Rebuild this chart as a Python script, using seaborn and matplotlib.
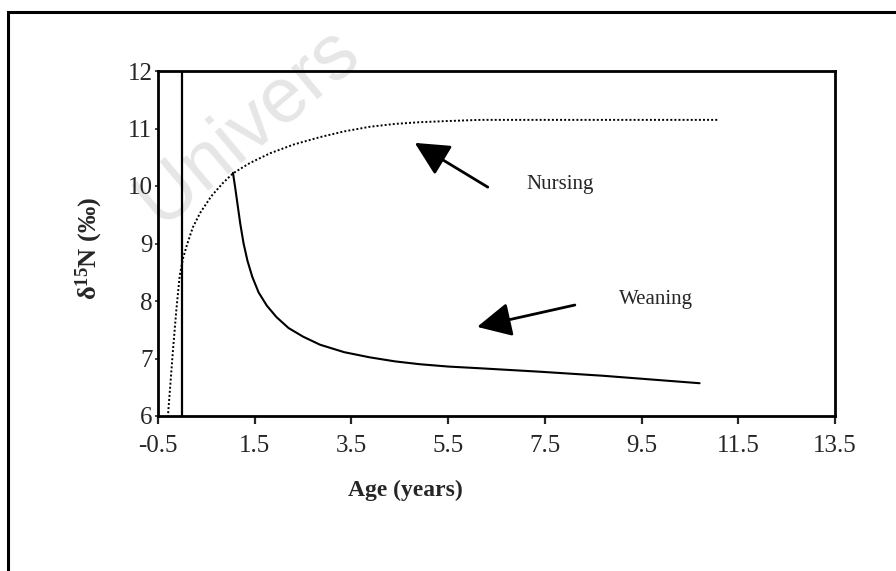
"""
delta15N vs age: nursing and weaning curves (reproduction of scanned figure)
"""

import matplotlib
matplotlib.use("Agg")
import matplotlib.pyplot as plt
from matplotlib.patches import Rectangle
import seaborn as sns

# --- values ---
nursing_age = [-0.29, -0.24, -0.19, -0.12, -0.05, 0.02, 0.10, 0.22, 0.37,
               0.60, 0.84, 1.05, 1.40, 1.82, 2.30, 2.85, 3.35, 3.88, 4.40,
               4.92, 5.50, 6.16, 8.00, 11.10]
nursing_d15n = [6.05, 6.60, 7.15, 7.85, 8.45, 8.75, 8.98, 9.28, 9.53,
                9.82, 10.05, 10.22, 10.40, 10.57, 10.72, 10.85, 10.95, 11.03, 11.08,
                11.11, 11.13, 11.15, 11.15, 11.15]

weaning_age = [1.05, 1.10, 1.15, 1.20, 1.27, 1.35, 1.45, 1.58, 1.75, 1.95,
               2.20, 2.50, 2.85, 3.35, 3.88, 4.40, 4.92, 5.50, 6.16, 7.40,
               8.70, 10.70]
weaning_d15n = [10.23, 9.95, 9.65, 9.35, 9.00, 8.70, 8.42, 8.15, 7.92, 7.72,
                7.53, 7.38, 7.24, 7.11, 7.02, 6.95, 6.90, 6.86, 6.83, 6.77,
                6.70, 6.57]

x_ticks = [-0.5, 1.5, 3.5, 5.5, 7.5, 9.5, 11.5, 13.5]
y_ticks = [6, 7, 8, 9, 10, 11, 12]
weaning_start = 0.0  # vertical line at age 0

labels = ["Nursing", "Weaning"]
label_xy = [(7.11, 10.02), (9.03, 8.02)]
arrow_tail = [(6.32, 9.98), (8.12, 7.93)]
arrow_head = [(4.81, 10.75), (6.10, 7.55)]


def main():
    sns.set_theme(style="white")
    plt.rcParams["font.family"] = ["Liberation Serif", "DejaVu Serif"]
    plt.rcParams["mathtext.fontset"] = "custom"
    plt.rcParams["mathtext.rm"] = "Liberation Serif"
    plt.rcParams["mathtext.bf"] = "Liberation Serif:bold"
    plt.rcParams["mathtext.it"] = "Liberation Serif:italic"

    fig = plt.figure(figsize=(8.96, 5.71), dpi=100)
    fig.patch.set_facecolor("white")

    # faint scan watermark (only the part that shows on the page)
    fig.text(160 / 896, 1 - 226 / 571, "Univers",
             rotation=40, rotation_mode="anchor", ha="left", va="baseline",
             fontsize=56, color="#e6e6e6", family=["Liberation Sans"], zorder=-5)

    # outer frame of the scanned page
    fig.add_artist(Rectangle((8 / 896, -0.3), 1.5, 1.3 - 12 / 571,
                             transform=fig.transFigure, fill=False,
                             edgecolor="black", linewidth=2.2))

    ax = fig.add_axes([158 / 896, 1 - 416 / 571, 677 / 896, 345 / 571])
    ax.patch.set_visible(False)

    sns.lineplot(x=nursing_age, y=nursing_d15n, ax=ax, sort=False,
                 estimator=None, color="black", linewidth=1.4,
                 linestyle=(0, (1, 1.1)))
    sns.lineplot(x=weaning_age, y=weaning_d15n, ax=ax, sort=False,
                 estimator=None, color="black", linewidth=1.5)
    ax.axvline(weaning_start, color="black", linewidth=1.6)

    for text, xy, tail, head in zip(labels, label_xy, arrow_tail, arrow_head):
        ax.annotate("", xy=head, xytext=tail,
                    arrowprops=dict(arrowstyle="-|>,head_length=1.0,head_width=0.5",
                                    color="black", linewidth=2.0,
                                    shrinkA=0, shrinkB=0, mutation_scale=21))
        ax.text(xy[0], xy[1], text, ha="left", va="center", fontsize=15)

    ax.set_xlim(-0.5, 13.5)
    ax.set_ylim(6, 12)
    ax.set_xticks(x_ticks)
    ax.set_xticklabels([f"{t:g}" for t in x_ticks])
    ax.set_yticks(y_ticks)
    ax.tick_params(axis="x", direction="out", length=6, width=1.6,
                   labelsize=18, pad=8, bottom=True)
    ax.tick_params(axis="y", direction="out", length=2, width=1.2,
                   labelsize=18, pad=2, left=True)
    for side in ["left", "right", "top", "bottom"]:
        ax.spines[side].set_visible(True)
        ax.spines[side].set_color("black")
        ax.spines[side].set_linewidth(2.0)

    ax.set_xlabel("")
    ax.set_ylabel("")
    fig.text(405 / 896, 1 - 490 / 571, "Age (years)", ha="center", va="center",
             fontsize=17, fontweight="bold")
    fig.text(89 / 896, 1 - 248 / 571, r"$\mathbf{\delta^{15}N}$ (‰)",
             ha="center", va="center", rotation=90, fontsize=19,
             fontweight="bold")

    fig.savefig("out.png", dpi=100, facecolor="white")


if __name__ == "__main__":
    main()
